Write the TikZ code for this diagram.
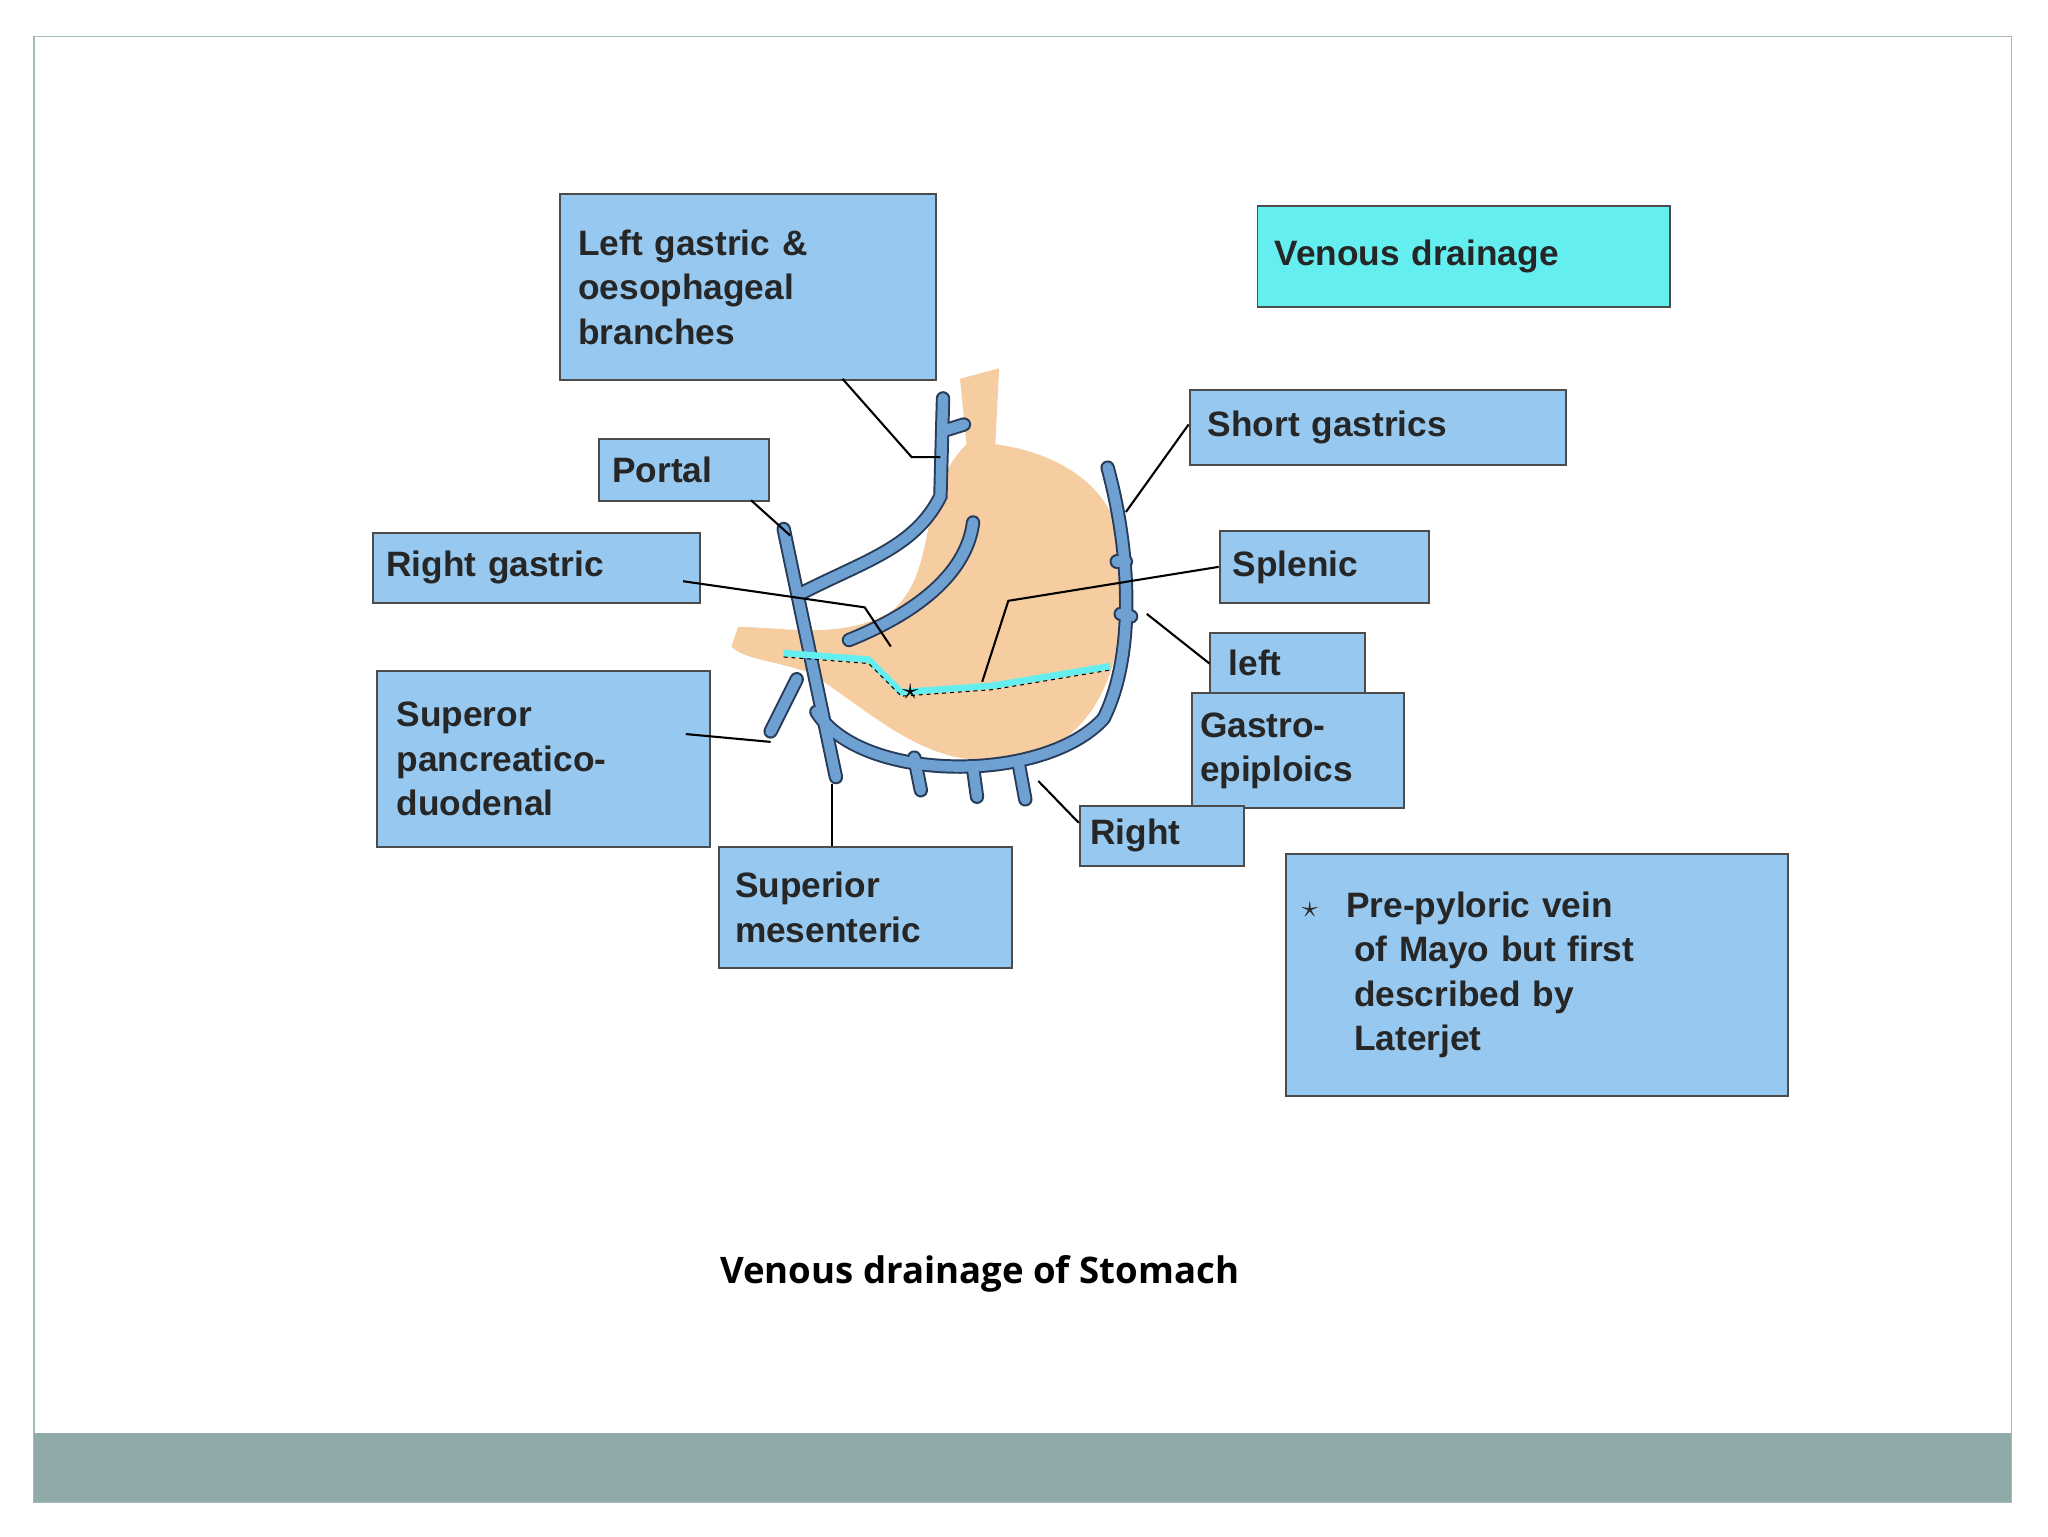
\documentclass[tikz,border=0pt]{standalone}
\usepackage{fontspec}
\setmainfont{Liberation Sans}
\newfontfamily\capfont{Open Sans}
\begin{document}
\begin{tikzpicture}[x=1pt,y=-1pt,
 lbl/.style={draw=black!70,line width=1.5pt,fill=boxblue,align=left,anchor=north west,inner sep=0pt,font=\fontsize{27}{34}\selectfont\bfseries,text=black!85},
 lead/.style={draw=black,line width=1.6pt},
 vein/.style={draw=veinedge,line width=11pt,line cap=round},
 veinin/.style={draw=veinblue,line width=8pt,line cap=round}]
\definecolor{boxblue}{RGB}{150,200,240}
\definecolor{cyanbox}{RGB}{100,238,240}
\definecolor{bar}{RGB}{143,170,168}
\definecolor{veinblue}{RGB}{110,160,210}
\definecolor{veinedge}{RGB}{40,60,90}
\definecolor{tan}{RGB}{245,205,160}
\useasboundingbox (0,0) rectangle (1568,1176);
\fill[white] (0,0) rectangle (1568,1176);
\draw[bar!80,line width=1.2pt] (26,28) rectangle (1540,1150);
\fill[bar] (26,1097) rectangle (1540,1150);
% stomach
\fill[tan] (735,290) -- (765,282) -- (762,340) .. controls (830,350) and (870,390) .. (860,460)
 .. controls (855,540) and (820,585) .. (750,582) .. controls (700,580) and (660,540) .. (620,515)
 .. controls (590,505) and (570,505) .. (560,495) -- (565,480) .. controls (600,480) and (640,490) .. (680,470)
 .. controls (720,440) and (700,380) .. (740,340) -- cycle;
% veins
\foreach \s in {vein,veinin}{
 \draw[\s] (600,405) -- (640,595);
 \draw[\s] (612,455) .. controls (660,430) and (700,420) .. (720,380) -- (722,305);
 \draw[\s] (650,490) .. controls (700,470) and (740,440) .. (745,400);
 \draw[\s] (625,545) .. controls (660,600) and (800,600) .. (845,550) .. controls (870,500) and (865,420) .. (848,358);
 \draw[\s] (610,520) -- (590,560);
 \draw[\s] (700,580) -- (705,605);
 \draw[\s] (745,588) -- (748,610);
 \draw[\s] (780,585) -- (785,612);
 \draw[\s] (855,430) -- (862,430);
 \draw[\s] (858,470) -- (866,472);
 \draw[\s] (722,330) -- (738,325);
}
\draw[cyanbox,line width=5pt] (600,500) -- (665,505) -- (690,530) -- (760,525) -- (850,510);
\draw[black,dashed,line width=0.8pt] (600,503) -- (665,508) -- (690,533) -- (760,528) -- (850,513);
\node[font=\fontsize{26}{26}\selectfont] (star) at (697,530) {$\star$};
% labels
\node[lbl,minimum width=274,minimum height=142,text width=260,inner xsep=14pt,inner ysep=12pt] (lg) at (428,148) {Left gastric \&\\oesophageal\\branches};
\node[lbl,fill=cyanbox,minimum width=304,minimum height=77,text width=290,inner xsep=13pt,inner ysep=18pt] (vd) at (962,157) {Venous drainage};
\node[lbl,minimum width=117,minimum height=48,text width=110,inner xsep=10pt,inner ysep=8pt] (po) at (458,335) {Portal};
\node[lbl,minimum width=238,minimum height=54,text width=230,inner xsep=10pt,inner ysep=10pt] (rg) at (285,407) {Right gastric};
\node[lbl,minimum width=272,minimum height=57,text width=260,inner xsep=14pt,inner ysep=10pt] (sg) at (910,298) {Short gastrics};
\node[lbl,minimum width=147,minimum height=55,text width=140,inner xsep=10pt,inner ysep=10pt] (sp) at (933,406) {Splenic};
\node[lbl,minimum width=94,minimum height=46,text width=90,inner xsep=14pt,inner ysep=8pt] (le) at (926,484) {left};
\node[lbl,minimum width=159,minimum height=88,text width=150,inner xsep=6pt,inner ysep=6pt] (ge) at (912,530) {Gastro-\\epiploics};
\node[lbl,minimum width=237,minimum height=135,text width=225,inner xsep=15pt,inner ysep=4pt] (spd) at (288,513) {Superor\\pancreatico-\\duodenal};
\node[lbl,minimum width=114,minimum height=46,text width=110,inner xsep=8pt,inner ysep=5pt] (ri) at (826,616) {Right};
\node[lbl,minimum width=207,minimum height=92,text width=200,inner xsep=12pt,inner ysep=6pt] (sm) at (550,648) {Superior\\mesenteric};
\node[lbl,minimum width=374,minimum height=185,text width=360,inner xsep=12pt,inner ysep=6pt] (pp) at (984,653) {\makebox[40pt][l]{$\star$}\hspace{-6pt}Pre-pyloric vein\\\hspace*{40pt}of Mayo but first\\\hspace*{40pt}described by\\\hspace*{40pt}Laterjet};
% leads
\coordinate (a1) at (720,350); \coordinate (a2) at (605,410);
\coordinate (a3) at (682,495); \coordinate (a4) at (862,392);
\coordinate (a5) at (752,522); \coordinate (a6) at (878,470);
\coordinate (a7) at (590,568); \coordinate (a8) at (637,600);
\coordinate (a9) at (795,598);
\draw[lead] (645,290) -- (698,350) -- (a1);
\draw[lead] (po.south west)++(118,48) (575,383) -- (a2);
\draw[lead] (523,445) -- (662,465) -- (a3);
\draw[lead] (910,325) -- (a4);
\draw[lead] (933,434) -- (772,460) -- (a5);
\draw[lead] (926,508) -- (a6);
\draw[lead] (525,562) -- (a7);
\draw[lead] (637,648) -- (a8);
\draw[lead] (826,630) -- (a9);
\node[font=\capfont\bfseries\fontsize{28}{34}\selectfont] (cap) at (750,975) {Venous drainage of Stomach};
\end{tikzpicture}
\end{document}
